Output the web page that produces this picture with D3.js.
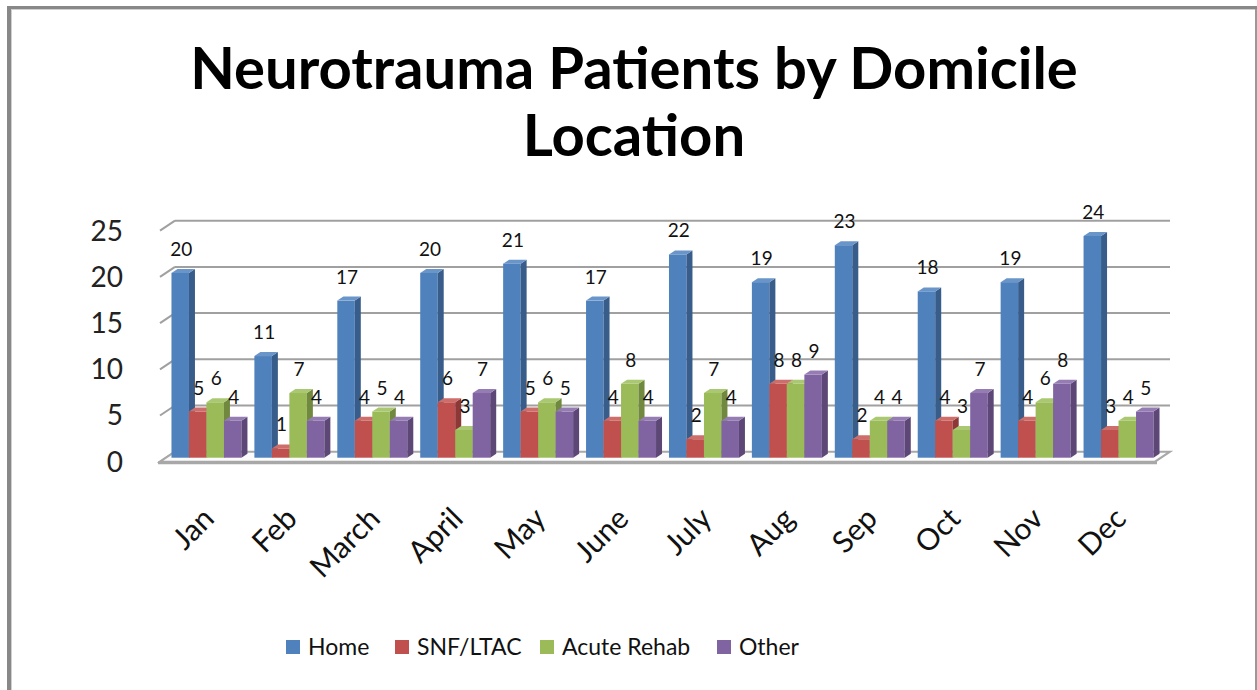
<!DOCTYPE html>
<html>
<head>
<meta charset="utf-8">
<script src="https://cdn.jsdelivr.net/npm/d3@7"></script>
<style>
  body { margin: 0; background: #fff; }
  svg { display: block; font-family: Lato, "Noto Sans", sans-serif; }
</style>
</head>
<body>
<svg id="chart" width="1257" height="690"></svg>
<script>
// chart data
var months = ["Jan", "Feb", "March", "April", "May", "June", "July", "Aug", "Sep", "Oct", "Nov", "Dec"];
var seriesNames = ["Home", "SNF/LTAC", "Acute Rehab", "Other"];
var home       = [20, 11, 17, 20, 21, 17, 22, 19, 23, 18, 19, 24];
var snfLtac    = [5, 1, 4, 6, 5, 4, 2, 8, 2, 4, 4, 3];
var acuteRehab = [6, 7, 5, 3, 6, 8, 7, 8, 4, 3, 6, 4];
var other      = [4, 4, 4, 7, 5, 4, 4, 9, 4, 7, 8, 5];
var yTicks = [0, 5, 10, 15, 20, 25];

var values = [home, snfLtac, acuteRehab, other];
var front = ["#4f81bd", "#c0504d", "#9bbb59", "#8064a2"];
var side  = ["#385d8a", "#8c3836", "#71893f", "#5c4776"];
var top_  = ["#6a95c9", "#cd6e6b", "#aac871", "#957cb3"];

var svg = d3.select("#chart");

// frame
svg.append("rect").attr("x", 0).attr("y", 0).attr("width", 1257).attr("height", 690).attr("fill", "#fff");
svg.append("rect").attr("x", 7).attr("y", 6).attr("width", 1257).attr("height", 3).attr("fill", "#888");
svg.append("rect").attr("x", 7).attr("y", 6).attr("width", 4).attr("height", 690).attr("fill", "#888");
svg.append("rect").attr("x", 11).attr("y", 9).attr("width", 1246).attr("height", 1).attr("fill", "#d0d0d0");
svg.append("rect").attr("x", 11).attr("y", 9).attr("width", 1).attr("height", 690).attr("fill", "#d0d0d0");
svg.append("rect").attr("x", 1255).attr("y", 9).attr("width", 2).attr("height", 690).attr("fill", "#999");

// title
var title = svg.append("text").attr("text-anchor", "middle")
    .attr("font-weight", "bold").attr("font-size", 58).attr("fill", "#000");
title.append("tspan").attr("x", 634).attr("y", 89).text("Neurotrauma Patients by Domicile");
title.append("tspan").attr("x", 634).attr("y", 156).text("Location");

// 3d geometry: front plane scales + depth vector
var dx = 15, dy = -10;
var x = d3.scaleBand().domain(months).range([160, 1155]);
var y = d3.scaleLinear().domain([0, 25]).range([461.7, 230.7]);
var inner = d3.scaleBand().domain(d3.range(4)).range([0, x.bandwidth()]).paddingOuter(0.37);

var grid = svg.append("g");
// left wall lines
grid.selectAll("line.side").data(yTicks).enter().append("line")
    .attr("x1", 160).attr("y1", function(d){ return y(d); })
    .attr("x2", 160 + dx).attr("y2", function(d){ return y(d) + dy; })
    .attr("stroke", "#a0a0a0").attr("stroke-width", 2);
// back wall lines
grid.selectAll("line.back").data(yTicks.slice(1)).enter().append("line")
    .attr("x1", 160 + dx).attr("y1", function(d){ return y(d) + dy; })
    .attr("x2", 1155 + dx).attr("y2", function(d){ return y(d) + dy; })
    .attr("stroke", "#a0a0a0").attr("stroke-width", 2);

// floor
svg.append("path")
    .attr("d", "M160," + y(0) + "L1155," + y(0) + "L" + (1155 + dx) + "," + (y(0) + dy) + "L" + (160 + dx) + "," + (y(0) + dy) + "Z")
    .attr("fill", "#fbfbfb").attr("stroke", "#a8a8a8").attr("stroke-width", 2);
svg.append("line").attr("x1", 158).attr("x2", 1157).attr("y1", y(0) + 1).attr("y2", y(0) + 1)
    .attr("stroke", "#a8a8a8").attr("stroke-width", 3);

// y labels
svg.append("g").selectAll("text").data(yTicks).enter().append("text")
    .attr("x", 123).attr("y", function(d){ return y(d); }).attr("dy", "0.35em")
    .attr("text-anchor", "end").attr("font-size", 28).attr("fill", "#222")
    .text(function(d){ return d; });

// bars
var off = [5, -4], depth = [6, -4];
var bars = [];
months.forEach(function(m, i){
    values.forEach(function(vals, s){
        bars.push({m: m, s: s, v: vals[i]});
    });
});
var bw = inner.bandwidth();
var g = svg.append("g");
var bar = g.selectAll("g.bar").data(bars).enter().append("g");
bar.each(function(d){
    var el = d3.select(this);
    var x0 = x(d.m) + inner(d.s) + off[0], x1 = x0 + bw;
    var yb = y(0) + off[1], yt = y(d.v) + off[1];
    el.append("rect").attr("x", x0).attr("y", yt).attr("width", bw).attr("height", yb - yt).attr("fill", front[d.s]);
    el.append("path").attr("d", "M" + x1 + "," + yt + "L" + (x1 + depth[0]) + "," + (yt + depth[1]) + "L" + (x1 + depth[0]) + "," + (yb + depth[1]) + "L" + x1 + "," + yb + "Z")
        .attr("fill", side[d.s]);
    el.append("path").attr("d", "M" + x0 + "," + yt + "L" + x1 + "," + yt + "L" + (x1 + depth[0]) + "," + (yt + depth[1]) + "L" + (x0 + depth[0]) + "," + (yt + depth[1]) + "Z")
        .attr("fill", top_[d.s]);
});

// data labels
g.selectAll("text").data(bars).enter().append("text")
    .attr("x", function(d){ return x(d.m) + inner(d.s) + off[0] + bw / 2 + 1; })
    .attr("y", function(d){ return y(d.v) + off[1] - 17; })
    .attr("text-anchor", "middle").attr("font-size", 19).attr("fill", "#111")
    .text(function(d){ return d.v; });

// x labels
svg.append("g").selectAll("text").data(months).enter().append("text")
    .attr("transform", function(d){ return "translate(" + (x(d) + x.bandwidth() / 2 + 7) + ",513) rotate(-45)"; })
    .attr("text-anchor", "end").attr("dy", "0.35em").attr("font-size", 30).attr("fill", "#111")
    .text(function(d){ return d; });

// legend
var legX = [286, 395, 540, 717];
var leg = svg.append("g").selectAll("g").data(seriesNames).enter().append("g")
    .attr("transform", function(d, i){ return "translate(" + legX[i] + ",640)"; });
leg.append("rect").attr("width", 14).attr("height", 14).attr("fill", function(d, i){ return front[i]; });
leg.append("text").attr("x", 22).attr("y", 7).attr("dy", "0.35em").attr("font-size", 23).attr("fill", "#111")
    .text(function(d){ return d; });
</script>
</body>
</html>
